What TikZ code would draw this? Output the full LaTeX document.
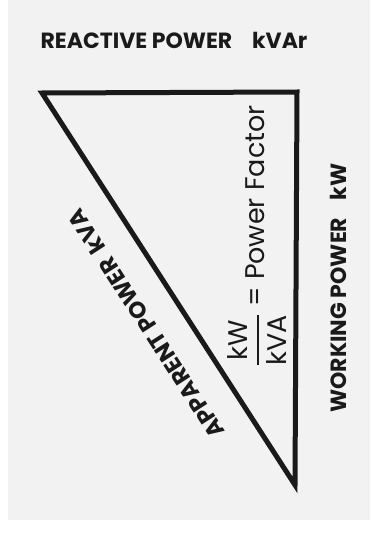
\documentclass[tikz,border=0pt]{standalone}
\usepackage{fontspec}
\setmainfont{Poppins}
\definecolor{paper}{RGB}{242,242,242}
\definecolor{ink}{RGB}{26,26,26}
\begin{document}
\begin{tikzpicture}[x=1pt, y=-1pt,
    side/.style={ink, line width=5pt, line join=miter},
    heading/.style={ink, font=\bfseries\fontsize{22}{22}\selectfont, inner sep=0pt},
    ratio/.style={ink, font=\fontsize{27}{27}\selectfont, inner sep=0pt}]
    % Page and paper
    \useasboundingbox (0,0) rectangle (370,535);
    \fill[white] (0,0) rectangle (370,535);
    \fill[paper] (8,0) rectangle (370,520);

    % Corners of the triangle
    \coordinate (left) at (42,93);
    \coordinate (right) at (297,92);
    \coordinate (bottom) at (295,485);
    \draw[side] (left) -- (right) -- (bottom) -- cycle;

    % Side labels
    \node[heading] (reactive) at (174,40) {REACTIVE POWER\hspace{0.9em}kVAr};
    \node[heading, rotate=90] (working) at (338,288) {WORKING POWER\hspace{0.8em}kW};
    \node[heading, font=\bfseries\fontsize{23}{23}\selectfont, rotate=122.9]
        (apparent) at (146,324) {APPARENT POWER\hspace{0.4em}kVA};

    % Power factor
    \node[ratio, rotate=90] (factor) at (257,236)
        {$\displaystyle{\hbox{kW}\above 2.5pt\hbox{kVA}}$ = Power Factor};
\end{tikzpicture}
\end{document}
